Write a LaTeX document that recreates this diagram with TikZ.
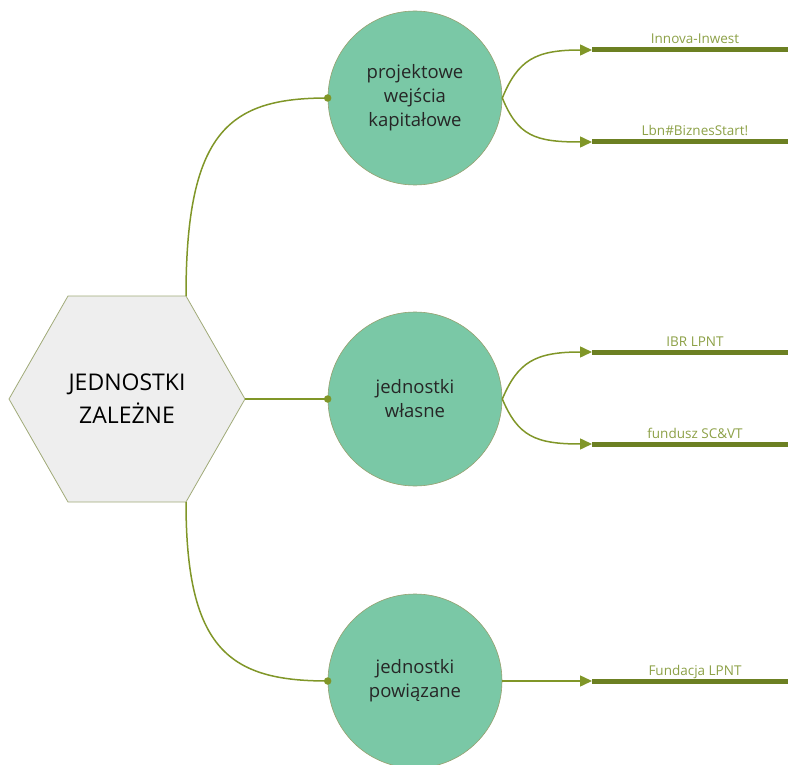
\documentclass[tikz,border=0pt]{standalone}
\usepackage{fontspec}
\setmainfont{Open Sans}
\usetikzlibrary{arrows.meta}
\definecolor{hexfill}{RGB}{238,238,238}
\definecolor{hexline}{RGB}{160,170,120}
\definecolor{circfill}{RGB}{122,200,166}
\definecolor{circline}{RGB}{150,160,110}
\definecolor{wire}{RGB}{128,150,40}
\definecolor{bar}{RGB}{108,128,34}
\definecolor{labeltext}{RGB}{140,160,70}
\tikzset{
  unit/.style={circle, draw=circline, line width=0.6pt, fill=circfill,
    minimum size=174pt, inner sep=0pt, align=center,
    font=\fontsize{18.5}{24}\selectfont, text=black!85},
  wireline/.style={draw=wire, line width=1.5pt},
  branch/.style={wireline, -{Triangle[length=12pt,width=11pt]}},
  barline/.style={draw=bar, line width=5pt},
  tag/.style={font=\fontsize{13.5}{15}\selectfont, text=labeltext, anchor=base},
  joint/.style={circle, fill=wire, inner sep=0pt, minimum size=7.5pt}
}
\begin{document}
\begin{tikzpicture}[x=1pt,y=-1pt]
\useasboundingbox (0,0) rectangle (788,765);
% central hexagon
\draw[draw=hexline, fill=hexfill, line width=0.8pt]
  (9,399) -- (68,296) -- (186,296) -- (245,399) -- (186,502) -- (68,502) -- cycle;
\node[align=center, font=\fontsize{23}{33}\selectfont] (root) at (127,399) {JEDNOSTKI\\ZALEŻNE};
\coordinate (hexT) at (186,296);
\coordinate (hexR) at (245,399);
\coordinate (hexB) at (186,502);
% units
\node[unit] (u1) at (415,98) {projektowe\\wejścia\\kapitałowe};
\node[unit] (u2) at (415,399) {jednostki\\własne};
\node[unit] (u3) at (415,681) {jednostki\\powiązane};
% links from the hexagon
\draw[wireline] (hexT) .. controls (186,130) and (230,98) .. (u1.west);
\draw[wireline] (hexR) -- (u2.west);
\draw[wireline] (hexB) .. controls (186,650) and (230,681) .. (u3.west);
\node[joint] at (u1.west) {};
\node[joint] at (u2.west) {};
\node[joint] at (u3.west) {};
% target bars
\coordinate (a1) at (592,50);  \coordinate (b1) at (788,50);
\coordinate (a2) at (592,142); \coordinate (b2) at (788,142);
\coordinate (a3) at (592,352); \coordinate (b3) at (788,352);
\coordinate (a4) at (592,444); \coordinate (b4) at (788,444);
\coordinate (a5) at (592,681); \coordinate (b5) at (788,681);
\foreach \i in {1,...,5} { \draw[barline] (a\i) -- (b\i); }
\node[tag] (t1) at (695,44) {Innova-Inwest};
\node[tag] (t2) at (695,136) {Lbn\#BiznesStart!};
\node[tag] (t3) at (695,346) {IBR LPNT};
\node[tag] (t4) at (695,438) {fundusz SC\&VT};
\node[tag] (t5) at (695,675) {Fundacja LPNT};
% branches
\draw[branch] (u1.east) .. controls (518,60) and (535,50) .. (a1);
\draw[branch] (u1.east) .. controls (518,136) and (535,142) .. (a2);
\draw[branch] (u2.east) .. controls (518,362) and (535,352) .. (a3);
\draw[branch] (u2.east) .. controls (518,436) and (535,444) .. (a4);
\draw[branch] (u3.east) -- (a5);
\end{tikzpicture}
\end{document}
